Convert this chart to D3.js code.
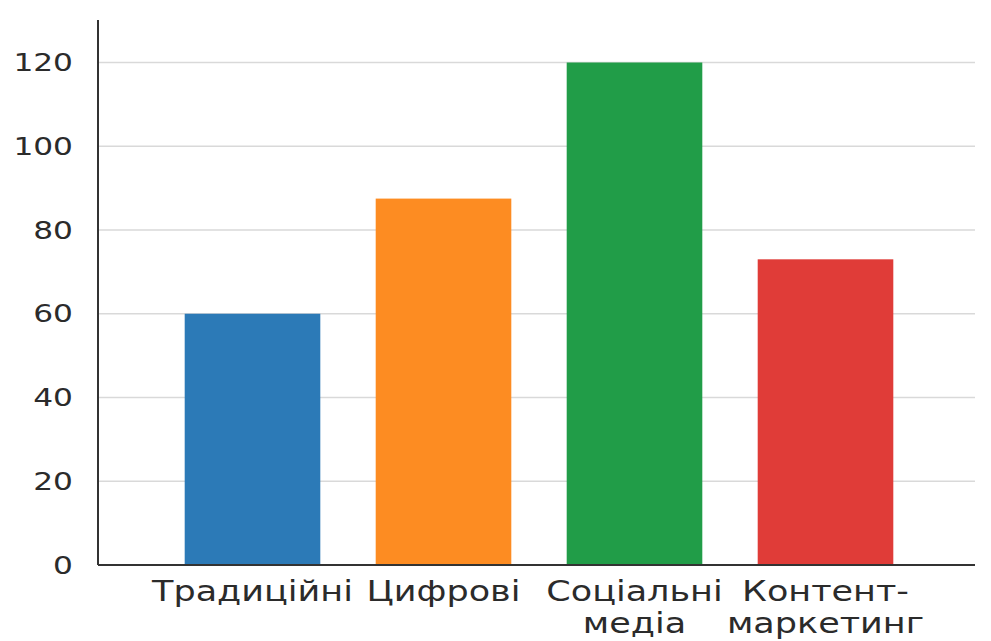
<!DOCTYPE html>
<html>
<head>
<meta charset="utf-8">
<script src="https://cdn.jsdelivr.net/npm/d3@7/dist/d3.min.js"></script>
<style>
  html, body { margin: 0; padding: 0; background: #fff; }
  svg { display: block; }
  text { font-family: "DejaVu Sans", sans-serif; fill: #2b2b2b; }
</style>
</head>
<body>
<svg id="chart" width="991" height="641"></svg>
<script>
// Marketing channel categories (two-line labels) and their values
const categories = ["Традиційні", "Цифрові", "Соціальні медіа", "Контент-маркетинг"];
const labelLines = [["Традиційні"], ["Цифрові"], ["Соціальні", "медіа"], ["Контент-", "маркетинг"]];
const values = [60, 87.5, 120, 73];
const colors = ["#2c7ab7", "#fd8c22", "#219d48", "#e03c38"];
const yTicks = [0, 20, 40, 60, 80, 100, 120];

const svg = d3.select("#chart");
const plotLeft = 98, plotRight = 975, plotTop = 20, plotBottom = 565;
const textStretch = 1.25; // wide lettering

const y = d3.scaleLinear().domain([0, 120]).range([plotBottom, 62.5]);
const x = d3.scaleBand().domain(categories).range([157, 921])
  .paddingInner(0.29).paddingOuter(0.145);

// horizontal gridlines
svg.append("g").selectAll("line").data(yTicks.filter(d => d > 0)).join("line")
  .attr("x1", plotLeft).attr("x2", plotRight)
  .attr("y1", d => y(d)).attr("y2", d => y(d))
  .attr("stroke", "#d9d9d9").attr("stroke-width", 1.5);

// bars
svg.append("g").selectAll("rect").data(categories).join("rect")
  .attr("x", d => x(d))
  .attr("width", x.bandwidth())
  .attr("y", (d, i) => y(values[i]))
  .attr("height", (d, i) => plotBottom - y(values[i]))
  .attr("fill", (d, i) => colors[i]);

// y axis
const yAxis = d3.axisLeft(y).tickValues(yTicks).tickSize(0).tickPadding(0);
const gy = svg.append("g").attr("transform", `translate(${plotLeft},0)`).call(yAxis);
gy.select(".domain").remove();
gy.selectAll("text")
  .style("font-size", "25px")
  .style("font-family", "DejaVu Sans, sans-serif")
  .attr("fill", "#2b2b2b")
  .attr("x", 0)
  .attr("transform", `translate(-25,0) scale(${textStretch},1)`);

svg.append("line").attr("x1", plotLeft).attr("x2", plotLeft).attr("y1", plotTop).attr("y2", plotBottom)
  .attr("stroke", "#333").attr("stroke-width", 2);
svg.append("line").attr("x1", plotLeft).attr("x2", plotRight).attr("y1", plotBottom).attr("y2", plotBottom)
  .attr("stroke", "#333").attr("stroke-width", 2);

// category labels
const lab = svg.append("g").selectAll("text").data(categories).join("text")
  .attr("text-anchor", "middle")
  .style("font-size", "28px")
  .attr("transform", d => `translate(${x(d) + x.bandwidth() / 2},601) scale(${textStretch},1)`);
lab.selectAll("tspan").data((d, i) => labelLines[i]).join("tspan")
  .attr("x", 0).attr("dy", (d, j) => j === 0 ? 0 : 32)
  .text(d => d);
</script>
</body>
</html>
